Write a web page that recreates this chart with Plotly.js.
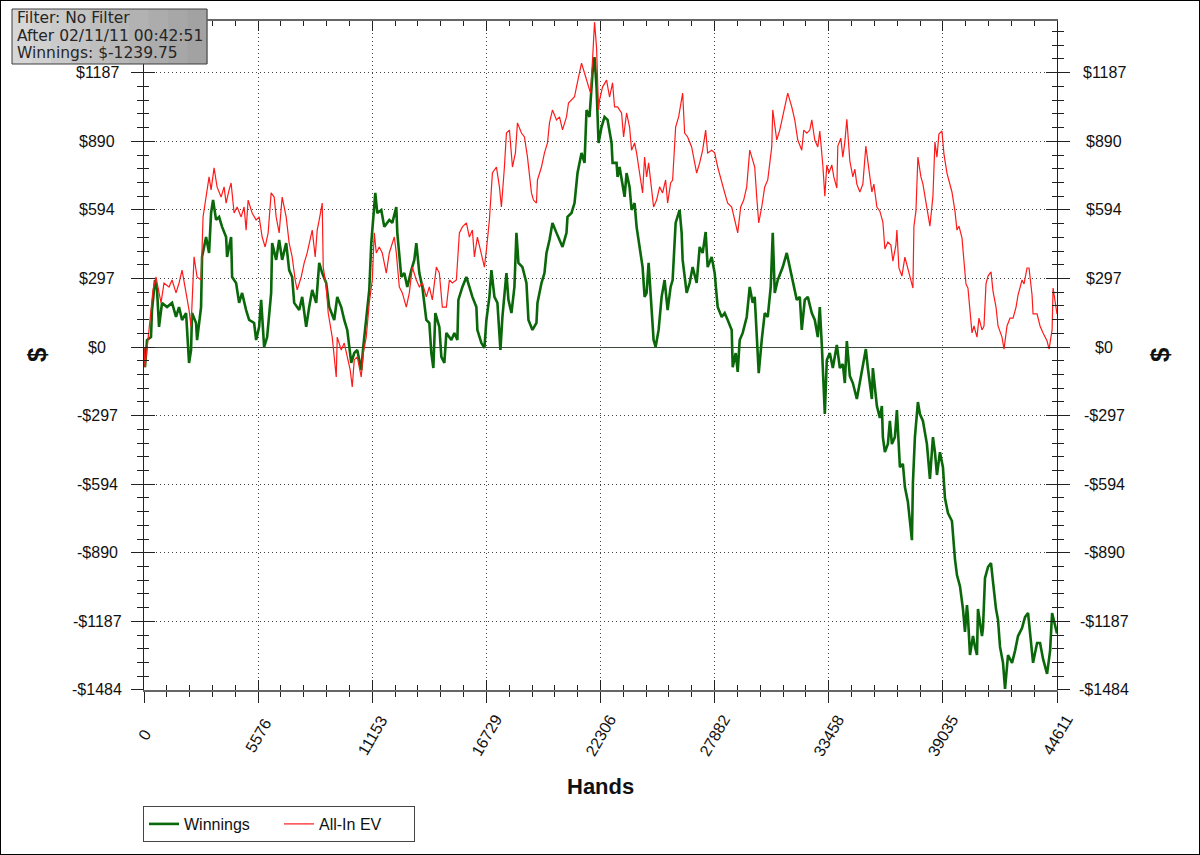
<!DOCTYPE html>
<html>
<head>
<meta charset="utf-8">
<script src="https://cdn.plot.ly/plotly-3.0.1.min.js"></script>
<style>
  html, body { margin: 0; padding: 0; background: #fff; }
  #wrap { position: relative; width: 1200px; height: 855px; }
  #chart { width: 1200px; height: 855px; }
  #frame { position: absolute; left: 0; top: 0; width: 1200px; height: 855px; box-sizing: border-box; border: 1px solid #000; pointer-events: none; }
</style>
</head>
<body>
<div id="wrap"><div id="chart"></div><div id="frame"></div></div>
<script>
// ---- Data ----
const winHands = [0,49,147,342,391,538,636,734,881,1125,1370,1565,1712,1859,2055,2201,2299,2348,2544,2593,2788,2837,3033,3180,3278,3375,3522,3669,3816,4011,4060,4256,4305,4500,4647,4794,4990,5137,5381,5479,5626,5724,5870,6017,6213,6262,6457,6604,6751,6947,7093,7240,7338,7583,7729,7925,8072,8219,8414,8561,8708,8903,9050,9295,9442,9637,9784,9931,10126,10273,10420,10616,10713,10860,11007,11105,11252,11301,11398,11594,11741,11985,12132,12328,12377,12572,12719,12866,13062,13208,13306,13453,13600,13795,13942,14040,14138,14236,14431,14529,14676,14774,15018,15165,15312,15361,15557,15752,15899,16046,16241,16290,16486,16633,16731,16877,16975,17122,17269,17416,17513,17709,17807,17954,18100,18198,18296,18492,18687,18785,18981,19176,19225,19421,19568,19666,19813,19959,20155,20302,20449,20644,20693,20889,21036,21182,21378,21525,21623,21769,21916,22014,22112,22210,22356,22503,22650,22846,22895,23090,23139,23237,23384,23482,23579,23726,23824,23971,24069,24215,24362,24460,24558,24656,24802,24900,24998,25145,25292,25438,25585,25732,25830,25977,26172,26270,26319,26515,26661,26808,27004,27151,27297,27444,27542,27738,27884,28031,28227,28374,28520,28716,28765,28912,29010,29107,29254,29450,29597,29743,29841,29939,30037,30183,30330,30477,30624,30722,30820,30966,31211,31406,31553,31700,31896,32043,32140,32287,32434,32630,32776,32923,33021,33119,33168,33266,33363,33510,33657,33853,34000,34146,34244,34342,34489,34636,34831,34978,35125,35271,35369,35565,35614,35810,35956,36054,36103,36201,36348,36445,36543,36690,36788,36837,36935,37081,37179,37326,37424,37522,37571,37668,37815,37913,38060,38255,38402,38549,38647,38745,38891,39038,39136,39283,39478,39527,39625,39723,39870,40017,40114,40212,40261,40359,40506,40604,40701,40750,40946,40995,41093,41240,41386,41484,41631,41729,41827,41973,42071,42218,42414,42560,42707,42903,43050,43196,43343,43441,43637,43783,43930,44126,44273,44371,44611];
const winValues = [0,-87,30,43,160,290,247,87,191,173,191,130,173,117,147,-69,-13,147,104,30,173,390,476,407,580,636,550,563,520,476,390,476,303,277,191,234,160,117,104,30,87,204,0,43,234,450,377,463,377,450,333,303,191,160,217,87,173,247,191,364,320,277,173,117,217,173,117,74,-69,-26,-13,-100,0,130,247,450,623,667,580,593,520,550,537,606,494,303,320,260,333,377,450,320,260,117,104,-26,-91,147,87,-43,-69,61,30,61,30,204,260,303,260,217,173,74,17,-4,117,217,333,217,191,-13,130,320,204,147,260,494,364,346,277,117,74,104,191,277,320,407,463,537,494,463,433,494,563,580,623,753,840,797,1026,996,1186,1255,1125,883,952,996,983,883,797,797,736,779,710,650,753,693,593,623,520,433,346,217,234,364,173,30,0,74,217,290,160,260,290,537,593,494,377,234,277,346,277,433,407,498,346,390,320,173,130,147,117,74,-87,-26,-108,30,61,130,260,191,217,17,-113,30,147,130,260,494,234,290,346,407,346,290,204,217,74,204,217,147,117,43,173,9,-91,-290,-56,-26,-91,9,-91,-74,-156,26,-126,-156,-225,-156,-91,-9,-91,-225,-91,-255,-307,-255,-390,-455,-420,-320,-420,-390,-273,-372,-520,-506,-606,-671,-771,-836,-589,-390,-238,-290,-320,-420,-571,-390,-455,-554,-455,-520,-654,-719,-753,-818,-918,-987,-1035,-1134,-1233,-1117,-1169,-1333,-1251,-1298,-1333,-1134,-1251,-1216,-1000,-952,-935,-1017,-1134,-1181,-1298,-1367,-1480,-1333,-1367,-1315,-1251,-1216,-1169,-1151,-1281,-1367,-1281,-1281,-1350,-1415,-1315,-1151,-1239.75];

const evHands = [0,49,245,440,587,832,978,1223,1370,1565,1712,1859,2055,2201,2299,2446,2593,2788,2886,3033,3180,3278,3424,3571,3767,3914,4011,4158,4256,4403,4550,4745,4892,4990,5088,5283,5479,5626,5773,5919,6066,6213,6360,6457,6604,6751,6947,7093,7240,7387,7485,7680,7827,7974,8170,8219,8365,8463,8561,8708,8757,8903,9001,9197,9295,9393,9442,9637,9784,9931,10077,10175,10273,10420,10616,10713,10860,11007,11154,11252,11350,11496,11643,11839,11985,12230,12328,12475,12621,12817,12964,13111,13306,13453,13600,13795,13942,14089,14285,14431,14578,14774,14921,15067,15263,15410,15557,15752,15899,16046,16144,16290,16486,16633,16731,16877,17024,17220,17367,17464,17611,17709,17856,18003,18149,18247,18443,18590,18736,18932,19030,19176,19225,19421,19568,19715,19813,19959,20155,20302,20449,20644,20742,20889,21036,21133,21280,21378,21525,21672,21818,21916,22014,22112,22210,22258,22405,22601,22748,22895,22992,23139,23335,23433,23579,23726,23824,23971,24069,24215,24362,24460,24558,24656,24802,24900,25047,25194,25340,25487,25585,25732,25830,25977,26123,26319,26417,26564,26759,26857,27004,27151,27297,27444,27542,27738,27884,28031,28227,28374,28520,28716,28863,29010,29156,29303,29450,29597,29743,29841,29939,30037,30183,30330,30477,30673,30722,30917,31064,31211,31358,31455,31651,31798,31945,32140,32238,32385,32532,32630,32776,32923,33021,33168,33266,33363,33461,33608,33706,33853,33901,34048,34146,34244,34342,34489,34636,34733,34831,34978,35125,35271,35418,35565,35663,35810,35956,36103,36201,36348,36494,36592,36739,36788,36886,37033,37179,37326,37473,37571,37620,37718,37815,37962,38060,38206,38304,38402,38549,38647,38745,38842,38989,39087,39234,39332,39478,39625,39723,39821,39968,40065,40163,40261,40359,40457,40555,40701,40799,40946,41044,41142,41240,41386,41484,41631,41729,41924,42022,42169,42316,42463,42610,42707,42903,43000,43147,43245,43392,43441,43637,43783,43930,44126,44224,44371,44420,44611];
const evValues = [0,-87,74,247,303,191,277,260,290,234,277,333,234,160,87,390,303,290,563,649,736,680,775,693,649,693,623,680,710,580,606,563,606,506,636,580,550,563,476,433,494,667,649,563,494,649,563,450,390,290,247,303,364,407,476,506,390,506,550,623,346,260,147,43,-43,-130,43,-13,17,-43,-100,-173,-56,-43,-130,-26,43,191,290,494,407,433,407,320,407,476,407,260,234,173,234,346,290,260,277,217,260,204,346,320,173,173,290,277,290,494,520,537,476,506,390,476,407,346,420,550,753,779,693,606,779,926,939,779,840,970,926,909,823,667,636,623,723,779,840,883,970,1026,983,996,940,996,1056,1069,1083,1126,1186,1229,1186,1143,1099,1242,1406,1298,1026,1069,1125,1155,1082,1143,1039,1039,1013,909,1013,952,852,883,840,753,667,822,736,797,680,606,636,693,667,723,623,710,723,952,996,1099,926,909,866,822,753,797,852,939,840,852,840,779,710,667,623,606,550,494,606,636,693,852,809,779,649,537,606,693,723,866,1026,896,939,996,1056,1099,1039,983,896,852,939,926,939,983,896,866,935,788,653,788,753,788,736,688,870,904,822,887,986,805,736,770,705,671,705,870,770,671,705,606,588,541,424,454,441,372,441,506,342,307,389,342,290,255,523,588,822,736,705,623,588,523,653,887,822,922,935,835,753,723,671,588,506,523,472,372,273,255,143,61,91,43,125,74,91,273,307,325,242,173,91,43,-9,91,125,125,173,225,290,273,342,342,225,143,143,91,61,26,-9,74,255,143];

const seriesNames = ['Winnings', 'All-In EV'];
const yTickVals = [-1484, -1187.2, -890.4, -593.6, -296.8, 0, 296.8, 593.6, 890.4, 1187.2];
const yTickText = ['-$1484', '-$1187', '-$890', '-$594', '-$297', '$0', '$297', '$594', '$890', '$1187'];
const xTickVals = [0, 5576.4, 11152.8, 16729.1, 22305.5, 27881.9, 33458.3, 39034.6, 44611];
const xTickText = ['0', '5576', '11153', '16729', '22306', '27882', '33458', '39035', '44611'];
const xTitle = 'Hands';
const yTitle = '$';
const infoLines = ['Filter: No Filter', 'After 02/11/11 00:42:51', 'Winnings: $-1239.75'];

// ---- Chart ----
const FONT = 'Liberation Sans, Arial, sans-serif';
const yRange = [-1484.5, 1411];
const xRange = [0, 44611];
const L = 144, T = 21, W = 913, H = 669;           // plot box in page pixels
const px = v => (v - L) / W;                         // page x -> paper
const py = v => (T + H - v) / H;                     // page y -> paper

const traces = [
  { x: winHands, y: winValues, name: seriesNames[0], type: 'scatter', mode: 'lines',
    line: { color: '#0a680a', width: 2.6 }, xaxis: 'x', yaxis: 'y' },
  { x: evHands, y: evValues, name: seriesNames[1], type: 'scatter', mode: 'lines',
    line: { color: '#ff1a1a', width: 1.2 }, xaxis: 'x', yaxis: 'y' },
  // empty helper traces so the overlay tick axes get drawn
  { x: [], y: [], xaxis: 'x2', yaxis: 'y', showlegend: false, hoverinfo: 'skip', type: 'scatter', mode: 'lines' },
  { x: [], y: [], xaxis: 'x', yaxis: 'y2', showlegend: false, hoverinfo: 'skip', type: 'scatter', mode: 'lines' }
];

const minorY = { tickmode: 'linear', tick0: 0, dtick: 59.36, tickcolor: '#222', tickwidth: 1, showgrid: false };
const minorX = { tickmode: 'linear', tick0: 0, dtick: 1115.275, tickcolor: '#222', tickwidth: 1, showgrid: false };

const annotations = [];
yTickVals.forEach((v, i) => {
  [97, 1104].forEach(cx => annotations.push({
    xref: 'paper', yref: 'y', x: px(cx), y: v, xanchor: 'center', yanchor: 'middle',
    text: yTickText[i], showarrow: false, font: { family: FONT, size: 16, color: '#111' }
  }));
});
xTickVals.forEach((v, i) => annotations.push({
  xref: 'x', yref: 'paper', x: v, y: py(735), xanchor: 'center', yanchor: 'middle',
  text: xTickText[i], textangle: -60, showarrow: false, font: { family: FONT, size: 16, color: '#111' }
}));
annotations.push({
  xref: 'paper', yref: 'paper', x: 0.5, y: py(786), xanchor: 'center', yanchor: 'middle',
  text: xTitle, showarrow: false, font: { family: FONT, size: 22, color: '#111', weight: 'bold' }
});
[37, 1160].forEach(cx => annotations.push({
  xref: 'paper', yref: 'paper', x: px(cx), y: py(355), xanchor: 'center', yanchor: 'middle',
  text: yTitle, textangle: -90, showarrow: false, font: { family: FONT, size: 26, color: '#111', weight: 'bold' }
}));
infoLines.forEach((t, i) => annotations.push({
  xref: 'paper', yref: 'paper', x: px(15), y: py([18, 36, 53][i]), xanchor: 'left', yanchor: 'middle',
  text: t, showarrow: false, font: { family: 'DejaVu Sans, Verdana, sans-serif', size: 15.5, color: '#262626' }
}));

// info box background (grey gradient imitation) and frame
const shapes = [];
const boxX0 = 12, boxX1 = 207, boxY0 = 9, boxY1 = 64, strips = 10;
const greys = ['#d6d6d6','#d0d0d0','#cacaca','#c4c4c4','#bebebe','#b8b8b8','#b2b2b2','#acacac','#a7a7a7','#a2a2a2'];
for (let i = 0; i < strips; i++) {
  shapes.push({ type: 'rect', xref: 'paper', yref: 'paper', layer: 'above',
    x0: px(boxX0 + (boxX1 - boxX0) * i / strips), x1: px(boxX0 + (boxX1 - boxX0) * (i + 1) / strips + 0.5),
    y0: py(boxY1), y1: py(boxY0), fillcolor: greys[i], line: { width: 0 } });
}
shapes.push({ type: 'rect', xref: 'paper', yref: 'paper', layer: 'above',
  x0: px(boxX0), x1: px(boxX1), y0: py(boxY1), y1: py(boxY0), fillcolor: 'rgba(0,0,0,0)',
  line: { color: '#3c3c3c', width: 1 } });

const layout = {
  width: 1200, height: 855,
  margin: { l: L, r: 1200 - L - W, t: T, b: 855 - T - H },
  paper_bgcolor: '#ffffff', plot_bgcolor: '#ffffff',
  font: { family: FONT, size: 16, color: '#111' },
  showlegend: true,
  legend: {
    orientation: 'h', x: px(143), xanchor: 'left', y: py(806), yanchor: 'top',
    bordercolor: '#444', borderwidth: 1, bgcolor: '#ffffff',
    font: { family: FONT, size: 16, color: '#111' }, entrywidth: 90, tracegroupgap: 0
  },
  xaxis: {
    range: xRange, tickmode: 'array', tickvals: xTickVals, showticklabels: false,
    ticks: 'outside', ticklen: 11, tickcolor: '#222', tickwidth: 1,
    minor: Object.assign({ ticks: 'outside', ticklen: 5 }, minorX),
    showgrid: true, gridcolor: '#444', griddash: '1px,3px', gridwidth: 1,
    showline: true, linecolor: '#666', linewidth: 2, mirror: true, zeroline: false, fixedrange: true
  },
  xaxis2: {
    range: xRange, overlaying: 'x', anchor: 'y', side: 'bottom',
    tickmode: 'array', tickvals: xTickVals, showticklabels: false,
    ticks: 'inside', ticklen: 10, tickcolor: '#222', tickwidth: 1,
    minor: Object.assign({ ticks: 'inside', ticklen: 5 }, minorX),
    mirror: 'ticks', showline: false, showgrid: false, zeroline: false, fixedrange: true
  },
  yaxis: {
    range: yRange, tickmode: 'array', tickvals: yTickVals, showticklabels: false,
    ticks: 'outside', ticklen: 12, tickcolor: '#222', tickwidth: 1,
    minor: Object.assign({ ticks: 'outside', ticklen: 6 }, minorY),
    showgrid: true, gridcolor: '#444', griddash: '1px,3px', gridwidth: 1,
    zeroline: true, zerolinecolor: '#3a4a3a', zerolinewidth: 1,
    showline: true, linecolor: '#222', linewidth: 1, mirror: 'ticks', fixedrange: true
  },
  yaxis2: {
    range: yRange, overlaying: 'y', anchor: 'x', side: 'left',
    tickmode: 'array', tickvals: yTickVals, showticklabels: false,
    ticks: 'inside', ticklen: 11, tickcolor: '#222', tickwidth: 1,
    minor: Object.assign({ ticks: 'inside', ticklen: 5 }, minorY),
    mirror: 'ticks', showline: false, showgrid: false, zeroline: false, fixedrange: true
  },
  annotations: annotations,
  shapes: shapes
};

Plotly.newPlot('chart', traces, layout, { staticPlot: true, displayModeBar: false });
</script>
</body>
</html>
